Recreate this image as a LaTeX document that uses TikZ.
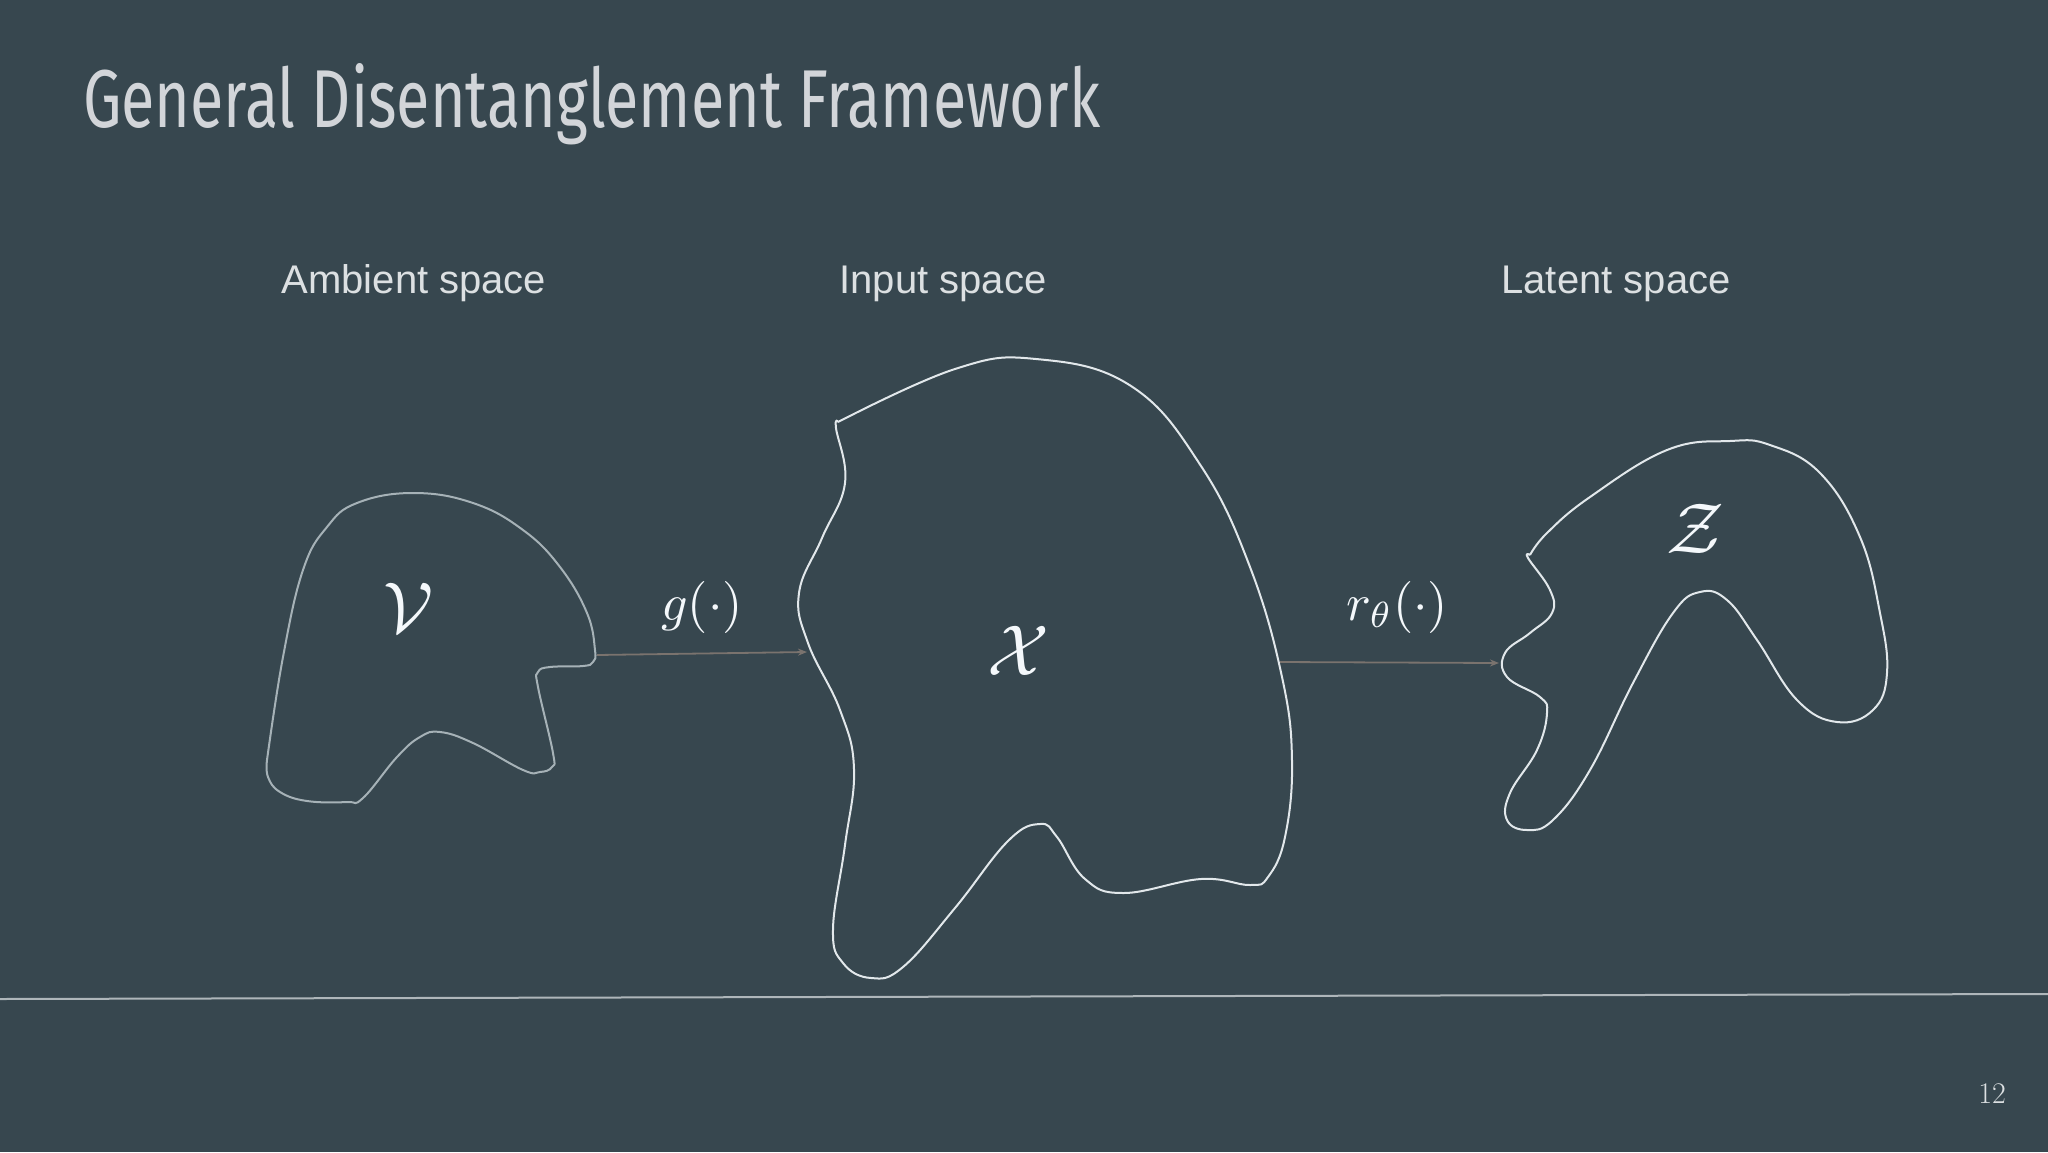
\documentclass[tikz,border=0pt]{standalone}
\usepackage{fontspec}
\newfontfamily\labelfont{Liberation Sans}
\newfontfamily\titlefont{Fira Sans}
\usetikzlibrary{arrows.meta}
\definecolor{bg}{HTML}{37474F}
\definecolor{titlecol}{HTML}{D2D5D9}
\definecolor{labelcol}{HTML}{DCE0E2}
\definecolor{vcol}{HTML}{A6B2B7}
\definecolor{shapecol}{HTML}{E2E8EB}
\definecolor{arrowcol}{HTML}{7A736E}
\definecolor{mathcol}{HTML}{F4F8FB}
\definecolor{rulecol}{HTML}{AEB6BA}
\newcommand{\bigmath}[2]{\scalebox{#1}{$#2$}}
\begin{document}
\begin{tikzpicture}[x=1pt,y=-1pt,
  spacelabel/.style={anchor=base,inner sep=0pt,text=labelcol,font=\labelfont\fontsize{40}{48}\selectfont},
  maplabel/.style={anchor=base,inner sep=0pt,text=mathcol},
  setlabel/.style={anchor=base,inner sep=0pt,text=mathcol},
  blob/.style={draw=shapecol,line width=2pt,line join=round},
  vblob/.style={draw=vcol,line width=2pt,line join=round},
  maparrow/.style={draw=arrowcol,line width=1.8pt,-{Stealth[length=9pt,width=7pt]}}]
\fill[bg] (0,0) rectangle (2048,1152);
\useasboundingbox (0,0) rectangle (2048,1152);

% title
\node[anchor=base west,inner sep=0pt,text=titlecol] (title) at (83,127)
  {\resizebox{1017pt}{64pt}{\titlefont General Disentanglement Framework}};

% space labels
\node[spacelabel] (amb) at (414,293) {Ambient space};
\node[spacelabel] (inp) at (943,293) {Input space};
\node[spacelabel] (lat) at (1616,293) {Latent space};

% ambient space blob V
\draw[vblob] plot[smooth,tension=0.7] coordinates {
 (267,760) (283,657) (303,570) (327,527) (357,503) (413,493) (473,503)
 (523,530) (560,567) (587,613) (595,650) (593,662) (583,666) (550,667)
 (538,672) (538,687) (553,753) (552,767) (540,772) (523,770) (473,743)
 (440,732) (420,737) (397,757) (363,798) (347,802) (307,801) (280,792)
 (268,777) (267,760)};

% input space blob X
\draw[blob] plot[smooth,tension=0.7] coordinates {
 (838,422) (836,428) (845,483) (822,538) (799,593) (808,643) (840,710)
 (854,769) (845,845) (833,929) (843,963) (871,978) (903,967) (955,908)
 (1008,841) (1040,824) (1057,837) (1085,879) (1124,893) (1201,879)
 (1250,885) (1268,877) (1285,837) (1292,761) (1282,677) (1250,567)
 (1201,466) (1131,386) (1036,359) (955,369) (838,422)};

% latent space blob Z
\draw[blob] plot[smooth,tension=0.7] coordinates {
 (1530,555) (1528,558) (1550,590) (1552,613) (1530,633) (1505,653)
 (1507,677) (1540,697) (1547,713) (1537,750) (1510,793) (1507,820)
 (1527,830) (1553,820) (1590,770) (1633,683) (1673,613) (1700,592)
 (1727,600) (1757,640) (1797,700) (1837,722) (1873,710) (1887,673)
 (1880,613) (1860,537) (1820,473) (1770,445) (1730,441) (1667,450)
 (1590,497) (1547,533) (1530,555)};

% set symbols
\node[setlabel] (V) at (409,632) {\bigmath{7.2}{\mathcal{V}}};
\node[setlabel] (X) at (1018,675) {\bigmath{7.2}{\mathcal{X}}};
\node[setlabel] (Z) at (1695,553) {\bigmath{7.2}{\mathcal{Z}}};

% maps
\coordinate (vout) at (597,655);
\coordinate (xin) at (807,652);
\coordinate (xout) at (1280,662);
\coordinate (zin) at (1499,663);
\draw[maparrow] (vout) -- (xin);
\draw[maparrow] (xout) -- (zin);
\node[maplabel] (g) at (702,620) {\bigmath{5.2}{g(\cdot)}};
\node[maplabel] (r) at (1397,620) {\bigmath{5.2}{r_\theta(\cdot)}};

% bottom rule and page number
\coordinate (ruleL) at (0,999);
\coordinate (ruleR) at (2048,994);
\draw[rulecol,line width=2pt] (ruleL) -- (ruleR);
\node[anchor=base,inner sep=0pt,text=labelcol,font=\fontsize{30}{36}\selectfont] (pnum) at (1992,1103) {12};
\end{tikzpicture}
\end{document}
